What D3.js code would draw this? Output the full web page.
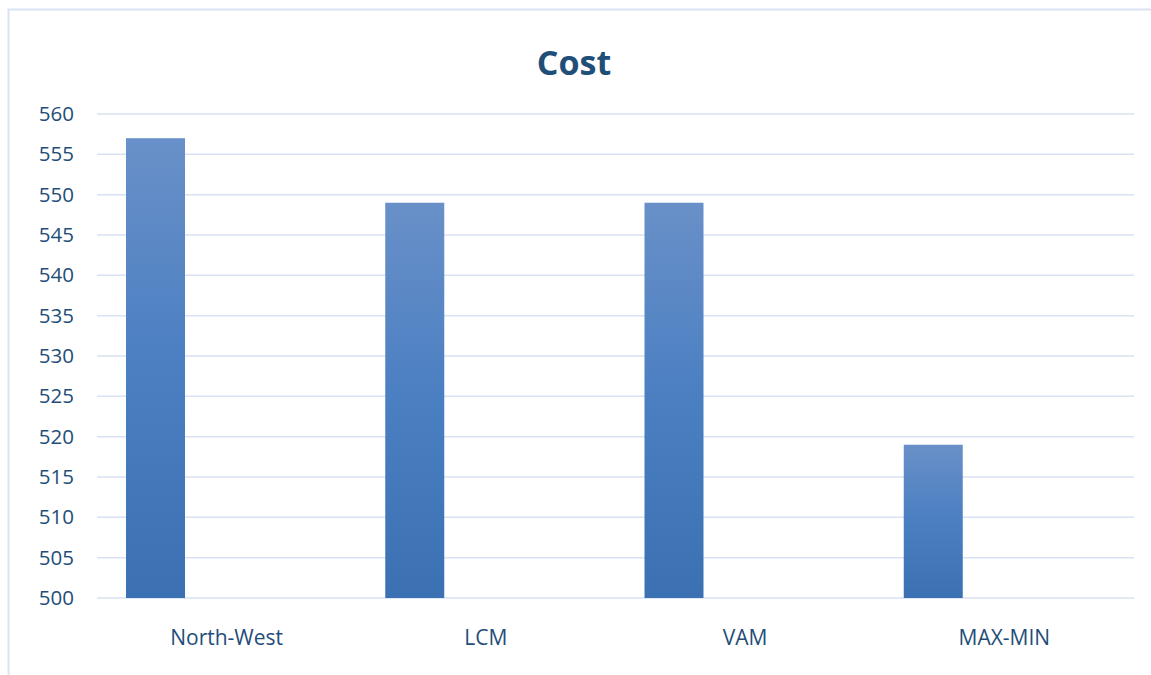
<!DOCTYPE html>
<html>
<head>
<meta charset="utf-8">
<script src="https://cdn.jsdelivr.net/npm/d3@7"></script>
<style>
html,body{margin:0;padding:0;background:#fff;}
svg{display:block;}
</style>
</head>
<body>
<svg id="chart" width="1151" height="675"></svg>
<script>
const categories = ["North-West", "LCM", "VAM", "MAX-MIN"];
const costValues = [557, 549, 549, 519];
const yTicks = [500, 505, 510, 515, 520, 525, 530, 535, 540, 545, 550, 555, 560];
const chartTitle = "Cost";

const svg = d3.select("#chart");
const W = 1151, H = 675;
const textColor = "#1F4E79";
const font = "'Open Sans', sans-serif";

// outer frame
svg.append("rect").attr("x", 8.5).attr("y", 9.5).attr("width", W + 10).attr("height", H + 10)
  .attr("fill", "#fff").attr("stroke", "#dae3f3").attr("stroke-width", 2);

const plot = {left: 97, right: 1134, top: 114, bottom: 598};

const x = d3.scaleBand().domain(categories).range([plot.left, plot.right]).paddingInner(0).paddingOuter(0);
const y = d3.scaleLinear().domain([500, 560]).range([plot.bottom, plot.top]);

// gradient
const defs = svg.append("defs");
const grad = defs.append("linearGradient").attr("id", "barGrad")
  .attr("x1", 0).attr("y1", 0).attr("x2", 0).attr("y2", 1);
grad.append("stop").attr("offset", "0%").attr("stop-color", "#6990c8");
grad.append("stop").attr("offset", "50%").attr("stop-color", "#4a7fc2");
grad.append("stop").attr("offset", "100%").attr("stop-color", "#3b70b3");

// gridlines
svg.append("g")
  .selectAll("line").data(yTicks).join("line")
  .attr("x1", plot.left).attr("x2", plot.right)
  .attr("y1", d => y(d)).attr("y2", d => y(d))
  .attr("stroke", "#d9e2f2").attr("stroke-width", 1.5);

// y axis labels
const yAxis = d3.axisLeft(y).tickValues(yTicks).tickSize(0).tickPadding(0);
const gy = svg.append("g").attr("transform", `translate(74,0)`).call(yAxis);
gy.select(".domain").remove();
gy.selectAll("text").attr("fill", textColor).style("font-family", font).style("font-size", "20.5px");

// bars (first slot of a two-slot cluster)
const barOffset = 29, barWidth = 59;
svg.append("g").selectAll("rect").data(categories).join("rect")
  .attr("x", (d) => x(d) + barOffset)
  .attr("width", barWidth)
  .attr("y", (d, i) => y(costValues[i]))
  .attr("height", (d, i) => y(500) - y(costValues[i]))
  .attr("fill", "url(#barGrad)");

// x axis labels
const xAxis = d3.axisBottom(x).tickSize(0).tickPadding(0);
const gx = svg.append("g").attr("transform", `translate(0,630)`).call(xAxis);
gx.select(".domain").remove();
gx.selectAll("text").attr("fill", textColor).style("font-family", font).style("font-size", "21px");

// title
svg.append("text").attr("x", 574).attr("y", 75).attr("text-anchor", "middle")
  .attr("fill", textColor).style("font-family", font).style("font-weight", "bold").style("font-size", "34px")
  .text(chartTitle);
</script>
</body>
</html>
